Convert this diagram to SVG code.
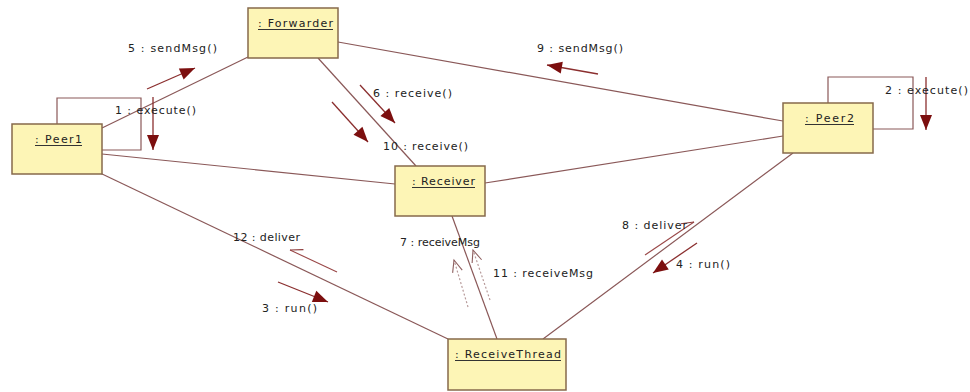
<svg xmlns="http://www.w3.org/2000/svg" width="970" height="392" viewBox="0 0 970 392">
  <defs>
    <style>
      .node rect { fill: #fdf5b6; stroke: #86694b; stroke-width: 1.5; }
      .name { font-family: "DejaVu Sans", "Liberation Sans", sans-serif; font-size: 11px; fill: #222; }
      .ul { stroke: #333; stroke-width: 1; }
      .link { stroke: #8a5858; stroke-width: 1.2; fill: none; }
      .msg { font-family: "DejaVu Sans", "Liberation Sans", sans-serif; font-size: 11px; fill: #222; }
      .call { stroke: #8b2f2f; stroke-width: 1.3; fill: none; marker-end: url(#filled); }
      .async { stroke: #9a4848; stroke-width: 1.1; fill: none; }
      .ret { stroke: #b79a9a; stroke-width: 1.2; stroke-dasharray: 2 2; fill: none; marker-end: url(#openDash); }
    </style>
    <!-- synchronous call: filled head -->
    <marker id="filled" markerUnits="userSpaceOnUse" markerWidth="16" markerHeight="14" refX="15" refY="6" orient="auto" overflow="visible">
      <path d="M0,0 L15,6 L0,12 z" fill="#7c0f0f"/>
    </marker>
    <!-- half stick heads, barb on either side -->
    <marker id="halfA" markerUnits="userSpaceOnUse" markerWidth="14" markerHeight="14" refX="12" refY="6" orient="auto" overflow="visible">
      <path d="M12,6 L0,0" stroke="#8e3c3c" stroke-width="1.2" fill="none"/>
    </marker>
    <marker id="halfB" markerUnits="userSpaceOnUse" markerWidth="14" markerHeight="14" refX="12" refY="6" orient="auto" overflow="visible">
      <path d="M12,6 L0,12" stroke="#8e3c3c" stroke-width="1.2" fill="none"/>
    </marker>
    <!-- return: open head -->
    <marker id="openDash" markerUnits="userSpaceOnUse" markerWidth="14" markerHeight="14" refX="12" refY="6" orient="auto" overflow="visible">
      <path d="M0,1 L12,6 L0,11" stroke="#8e5f5f" stroke-width="1.1" fill="none"/>
    </marker>
  </defs>

  <rect width="970" height="392" fill="#ffffff"/>

  <!-- links between objects -->
  <g id="connectors">
    <line class="link" x1="102" y1="128" x2="248" y2="57"/>
    <line class="link" x1="102" y1="154" x2="395" y2="184"/>
    <line class="link" x1="100" y1="173" x2="448" y2="339"/>
    <line class="link" x1="338" y1="42" x2="783" y2="121"/>
    <line class="link" x1="318" y1="58" x2="416" y2="166"/>
    <line class="link" x1="485" y1="183" x2="783" y2="136"/>
    <line class="link" x1="452" y1="216" x2="497" y2="339"/>
    <line class="link" x1="793" y1="153" x2="543" y2="339"/>
    <!-- self links -->
    <path class="link" d="M57,124 V98 H141 V150 H102"/>
    <path class="link" d="M828,103 V77 H913 V129 H873"/>
  </g>

  <!-- messages -->
  <g id="messages">
    <line class="call" x1="147" y1="89" x2="195" y2="68"/>
    <text class="msg" x="128" y="52" textLength="89" lengthAdjust="spacing">5 : sendMsg()</text>

    <line class="call" x1="153" y1="97" x2="153" y2="150"/>
    <text class="msg" x="115" y="114" textLength="81" lengthAdjust="spacing">1 : execute()</text>

    <line class="call" x1="598" y1="74" x2="547" y2="65"/>
    <text class="msg" x="537" y="52" textLength="86" lengthAdjust="spacing">9 : sendMsg()</text>

    <line class="call" x1="360" y1="85" x2="395" y2="123"/>
    <text class="msg" x="373" y="97" textLength="79" lengthAdjust="spacing">6 : receive()</text>

    <line class="call" x1="332" y1="102" x2="368" y2="142"/>
    <text class="msg" x="383" y="150" textLength="85" lengthAdjust="spacing">10 : receive()</text>

    <line class="call" x1="926" y1="77" x2="926" y2="130"/>
    <text class="msg" x="885" y="94" textLength="83" lengthAdjust="spacing">2 : execute()</text>

    <line class="call" x1="278" y1="282" x2="328" y2="302"/>
    <text class="msg" x="262" y="312" textLength="55" lengthAdjust="spacing">3 : run()</text>

    <line class="call" x1="697" y1="243" x2="653" y2="273"/>
    <text class="msg" x="676" y="268" textLength="54" lengthAdjust="spacing">4 : run()</text>

    <line class="async" x1="337" y1="272" x2="290" y2="250" marker-end="url(#halfB)"/>
    <text class="msg" x="233" y="241" textLength="67" lengthAdjust="spacing">12 : deliver</text>

    <line class="async" x1="645" y1="255" x2="694" y2="222" marker-end="url(#halfA)"/>
    <text class="msg" x="622" y="229" textLength="65" lengthAdjust="spacing">8 : deliver</text>

    <line class="ret" x1="468" y1="307" x2="454" y2="260"/>
    <text class="msg" x="400" y="246" textLength="80" lengthAdjust="spacing">7 : receiveMsg</text>

    <line class="ret" x1="490" y1="300" x2="473" y2="250"/>
    <text class="msg" x="493" y="277" textLength="100" lengthAdjust="spacing">11 : receiveMsg</text>
  </g>

  <!-- objects -->
  <g id="peer1" class="node">
    <rect x="12" y="124" width="90" height="50"/>
    <text class="name" x="35" y="143" textLength="47" lengthAdjust="spacing">: Peer1</text>
    <line class="ul" x1="35" y1="145.5" x2="82" y2="145.5"/>
  </g>

  <g id="forwarder" class="node">
    <rect x="248" y="8" width="90" height="50"/>
    <text class="name" x="258" y="27" textLength="75" lengthAdjust="spacing">: Forwarder</text>
    <line class="ul" x1="258" y1="29.5" x2="333" y2="29.5"/>
  </g>

  <g id="peer2" class="node">
    <rect x="783" y="103" width="90" height="50"/>
    <text class="name" x="805" y="122" textLength="49" lengthAdjust="spacing">: Peer2</text>
    <line class="ul" x1="805" y1="124.5" x2="854" y2="124.5"/>
  </g>

  <g id="receiver" class="node">
    <rect x="395" y="166" width="90" height="50"/>
    <text class="name" x="412" y="185" textLength="63" lengthAdjust="spacing">: Receiver</text>
    <line class="ul" x1="412" y1="187.5" x2="475" y2="187.5"/>
  </g>

  <g id="receiveThread" class="node">
    <rect x="448" y="339" width="118" height="51"/>
    <text class="name" x="455" y="358" textLength="106" lengthAdjust="spacing">: ReceiveThread</text>
    <line class="ul" x1="455" y1="360.5" x2="561" y2="360.5"/>
  </g>
</svg>
